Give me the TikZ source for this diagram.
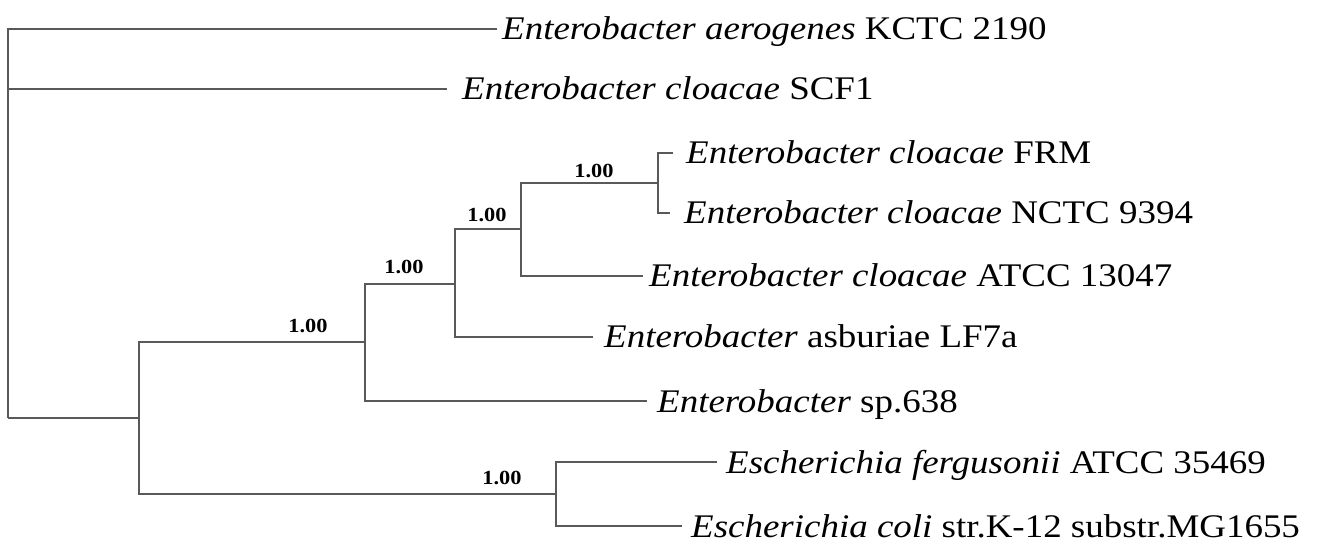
\documentclass[tikz,border=0pt]{standalone}
\usepackage{fontspec}
\setmainfont[FakeStretch=1.12]{Liberation Serif}
\begin{document}
\begin{tikzpicture}[x=1pt,y=-1pt,
  branch/.style={line width=1.4pt, draw=black!65},
  leaf/.style={anchor=west, inner sep=0pt, text height=22pt, text depth=0pt,
    font=\fontsize{33}{40}\selectfont},
  support/.style={anchor=base, inner sep=0pt,
    font=\fontsize{20}{24}\selectfont\bfseries}]
\useasboundingbox (0,0) rectangle (1328,545);

% internal nodes of the tree
\coordinate (R) at (8,418);
\coordinate (A) at (139,418);
\coordinate (B) at (365,342);
\coordinate (C) at (455,284);
\coordinate (D) at (521,229);
\coordinate (E) at (658,183);
\coordinate (F) at (556,494);

% ends of the terminal branches
\coordinate (t1) at (497,29);
\coordinate (t2) at (447,89);
\coordinate (t3) at (673,153);
\coordinate (t4) at (670,213);
\coordinate (t5) at (643,276);
\coordinate (t6) at (593,337);
\coordinate (t7) at (647,401);
\coordinate (t8) at (717,462);
\coordinate (t9) at (682,526);

% taxon labels
\node[leaf, xshift=5pt]  (aero) at (t1) {\textit{Enterobacter aerogenes} KCTC 2190};
\node[leaf, xshift=15pt] (scf)  at (t2) {\textit{Enterobacter cloacae} SCF1};
\node[leaf, xshift=13pt] (frm)  at (t3) {\textit{Enterobacter cloacae} FRM};
\node[leaf, xshift=14pt] (nctc) at (t4) {\textit{Enterobacter cloacae} NCTC 9394};
\node[leaf, xshift=6pt]  (atcc) at (t5) {\textit{Enterobacter cloacae} ATCC 13047};
\node[leaf, xshift=11pt] (asb)  at (t6) {\textit{Enterobacter} asburiae LF7a};
\node[leaf, xshift=10pt] (sp)   at (t7) {\textit{Enterobacter} sp.638};
\node[leaf, xshift=9pt]  (ferg) at (t8) {\textit{Escherichia fergusonii} ATCC 35469};
\node[leaf, xshift=9pt]  (coli) at (t9) {\textit{Escherichia coli} str.K-12 substr.MG1655};

% branches
\draw[branch] (R) |- (t1);
\draw[branch] (R) |- (t2);
\draw[branch] (R) -- (A);
\draw[branch] (A) |- (B);
\draw[branch] (A) |- (F);
\draw[branch] (B) |- (C);
\draw[branch] (B) |- (t7);
\draw[branch] (C) |- (D);
\draw[branch] (C) |- (t6);
\draw[branch] (D) |- (E);
\draw[branch] (D) |- (t5);
\draw[branch] (E) |- (t3);
\draw[branch] (E) |- (t4);
\draw[branch] (F) |- (t8);
\draw[branch] (F) |- (t9);

% posterior support values
\node[support] (sB) at (308,333) {1.00};
\node[support] (sC) at (404,274) {1.00};
\node[support] (sD) at (487,222) {1.00};
\node[support] (sE) at (594,178) {1.00};
\node[support] (sF) at (502,484) {1.00};
\end{tikzpicture}
\end{document}
